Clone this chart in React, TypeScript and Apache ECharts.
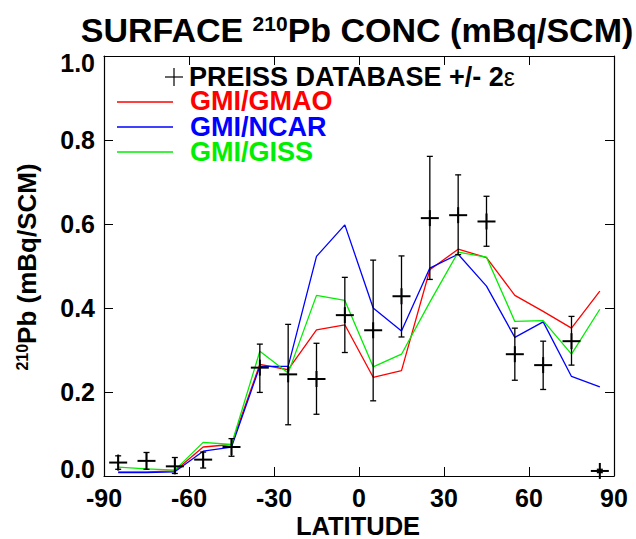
import React, { useEffect, useRef } from "react";
import * as echarts from "echarts";

const latitudes = [-85, -75, -65, -55, -45, -35, -25, -15, -5, 5, 15, 25, 35, 45, 55, 65, 75, 85];

const gmiGmao = [0.010, 0.010, 0.012, 0.069, 0.075, 0.266, 0.253, 0.348, 0.360, 0.235, 0.251, 0.491, 0.540, 0.520, 0.430, 0.392, 0.352, 0.440];
const gmiNcar = [0.008, 0.008, 0.010, 0.059, 0.069, 0.261, 0.261, 0.523, 0.598, 0.400, 0.345, 0.495, 0.528, 0.452, 0.330, 0.367, 0.237, 0.212];
const gmiGiss = [0.021, 0.017, 0.014, 0.080, 0.075, 0.297, 0.245, 0.430, 0.418, 0.260, 0.290, 0.414, 0.533, 0.521, 0.368, 0.370, 0.290, 0.397];

const preissMean = [0.032, 0.036, 0.023, 0.039, 0.069, 0.258, 0.242, 0.231, 0.383, 0.347, 0.428, 0.614, 0.621, 0.606, 0.290, 0.264, 0.321, 0.012];
const preissLow = [0.016, 0.016, 0.006, 0.019, 0.047, 0.199, 0.122, 0.147, 0.294, 0.179, 0.331, 0.468, 0.527, 0.547, 0.228, 0.206, 0.264, 0.008];
const preissHigh = [0.048, 0.056, 0.044, 0.057, 0.089, 0.314, 0.361, 0.316, 0.473, 0.514, 0.524, 0.761, 0.717, 0.666, 0.352, 0.321, 0.380, 0.016];

const xTicks = { min: -90, max: 90, interval: 30 };
const yTicks = { min: 0, max: 1, interval: 0.2 };

const FONT = "'Liberation Sans', Arial, Helvetica, sans-serif";

export default function App() {
  const ref = useRef<HTMLDivElement>(null);

  useEffect(() => {
    if (!ref.current) return;
    const chart = echarts.init(ref.current, null, { renderer: "svg" });

    const axisCommon = {
      axisLine: { show: true, onZero: false, lineStyle: { color: "#000", width: 1.2 } },
      axisTick: { show: true, inside: true, length: 9, lineStyle: { color: "#000", width: 1 } },
      splitLine: { show: false },
    };
    const labelStyle = {
      color: "#000",
      fontFamily: FONT,
      fontWeight: "bold" as const,
      fontSize: 25,
    };

    const lineSeries = (name: string, vals: number[], color: string) => ({
      name,
      type: "line",
      data: latitudes.map((lat, i) => [lat, vals[i]]),
      symbol: "none",
      showSymbol: false,
      lineStyle: { color, width: 1.3 },
      itemStyle: { color },
      xAxisIndex: 0,
      yAxisIndex: 0,
      z: 2,
    });

    const legendText = (text: string, y: number, color: string, x = 190) => ({
      type: "text",
      x,
      y,
      style: {
        text,
        align: "left",
        verticalAlign: "middle",
        fontFamily: FONT,
        fontWeight: "bold",
        fontSize: 27,
        lineHeight: 24,
        fill: color,
        rich: {
          eps: { fontFamily: FONT, fontWeight: "normal", fontSize: 25, lineHeight: 24, fill: color },
        },
      },
    });

    const legendLine = (y: number, color: string) => ({
      type: "line",
      z: 10,
      shape: { x1: 117, y1: y, x2: 173, y2: y },
      style: { stroke: color, lineWidth: 1.4 },
    });

    const option: any = {
      animation: false,
      backgroundColor: "#fff",
      grid: { left: 104, top: 56, width: 510, height: 420, containLabel: false },
      xAxis: [
        {
          type: "value",
          position: "bottom",
          ...xTicks,
          ...axisCommon,
          axisLabel: { ...labelStyle, margin: 11, lineHeight: 22, formatter: (v: number) => String(v) },
        },
        {
          type: "value",
          position: "top",
          ...xTicks,
          ...axisCommon,
          axisLabel: { show: false },
        },
      ],
      yAxis: [
        {
          type: "value",
          position: "left",
          ...yTicks,
          ...axisCommon,
          axisLabel: {
            ...labelStyle,
            margin: 9,
            formatter: (v: number) => {
              const s = v.toFixed(1);
              if (v >= 0.999) return "{top|" + s + "}";
              if (v <= 0.001) return "{bot|" + s + "}";
              return s;
            },
            rich: {
              top: { ...labelStyle, padding: [14, 0, 0, 0] },
              bot: { ...labelStyle, padding: [0, 0, 14, 0] },
            },
          },
        },
        {
          type: "value",
          position: "right",
          ...yTicks,
          ...axisCommon,
          axisLabel: { show: false },
        },
      ],
      series: [
        lineSeries("GMI/GMAO", gmiGmao, "#ff0000"),
        lineSeries("GMI/NCAR", gmiNcar, "#0000ff"),
        lineSeries("GMI/GISS", gmiGiss, "#00ee00"),
        {
          name: "PREISS",
          type: "custom",
          xAxisIndex: 0,
          yAxisIndex: 0,
          z: 5,
          clip: false,
          data: latitudes.map((lat, i) => [lat, preissMean[i], preissLow[i], preissHigh[i]]),
          encode: { x: 0, y: 1 },
          renderItem: (_params: any, api: any) => {
            const x = api.value(0);
            const c = api.coord([x, api.value(1)]);
            const lo = api.coord([x, api.value(2)]);
            const hi = api.coord([x, api.value(3)]);
            const thin = { stroke: "#000", lineWidth: 1.3 };
            const thick = { stroke: "#000", lineWidth: 2 };
            return {
              type: "group",
              children: [
                { type: "line", shape: { x1: c[0], y1: hi[1], x2: c[0], y2: lo[1] }, style: thin },
                { type: "line", shape: { x1: c[0] - 3, y1: hi[1], x2: c[0] + 3, y2: hi[1] }, style: thin },
                { type: "line", shape: { x1: c[0] - 3, y1: lo[1], x2: c[0] + 3, y2: lo[1] }, style: thin },
                { type: "line", shape: { x1: c[0] - 9, y1: c[1], x2: c[0] + 9, y2: c[1] }, style: thick },
                { type: "line", shape: { x1: c[0], y1: c[1] - 8, x2: c[0], y2: c[1] + 8 }, style: thick },
              ],
            };
          },
        },
      ],
      graphic: [
        {
          type: "text",
          x: 357,
          y: 30,
          style: {
            text: "SURFACE {sup|210}Pb CONC (mBq/SCM)",
            align: "center",
            verticalAlign: "middle",
            fontFamily: FONT,
            fontWeight: "bold",
            fontSize: 34,
            lineHeight: 34,
            fill: "#000",
            rich: {
              sup: { fontFamily: FONT, fontWeight: "bold", fontSize: 21, lineHeight: 21, verticalAlign: "top", fill: "#000" },
            },
          },
        },
        {
          type: "text",
          x: 358,
          y: 526,
          style: {
            text: "LATITUDE",
            align: "center",
            verticalAlign: "middle",
            fontFamily: FONT,
            fontWeight: "bold",
            fontSize: 25.5,
            lineHeight: 20,
            fill: "#000",
          },
        },
        {
          type: "text",
          x: 27,
          y: 267,
          rotation: Math.PI / 2,
          style: {
            text: "{sup|210}Pb (mBq/SCM)",
            align: "center",
            verticalAlign: "middle",
            fontFamily: FONT,
            fontWeight: "bold",
            fontSize: 26,
            fill: "#000",
            rich: {
              sup: { fontFamily: FONT, fontWeight: "bold", fontSize: 16, verticalAlign: "top", fill: "#000" },
            },
          },
        },
        // legend
        { type: "line", shape: { x1: 165, y1: 77, x2: 183, y2: 77 }, style: { stroke: "#000", lineWidth: 1.2 } },
        { type: "line", shape: { x1: 174, y1: 68, x2: 174, y2: 86 }, style: { stroke: "#000", lineWidth: 1.2 } },
        legendText("PREISS DATABASE +/- 2{eps|ε}", 76.5, "#000", 189),
        legendLine(102, "#ff0000"),
        legendText("GMI/GMAO", 101, "#ff0000"),
        legendLine(127, "#0000ff"),
        legendText("GMI/NCAR", 126.5, "#0000ff"),
        legendLine(152, "#00ee00"),
        legendText("GMI/GISS", 151.5, "#00ee00"),
      ],
    };

    chart.setOption(option);
    return () => chart.dispose();
  }, []);

  return (
    <div
      ref={ref}
      style={{ position: "absolute", left: 0, top: 0, width: 636, height: 539, background: "#fff" }}
    />
  );
}
